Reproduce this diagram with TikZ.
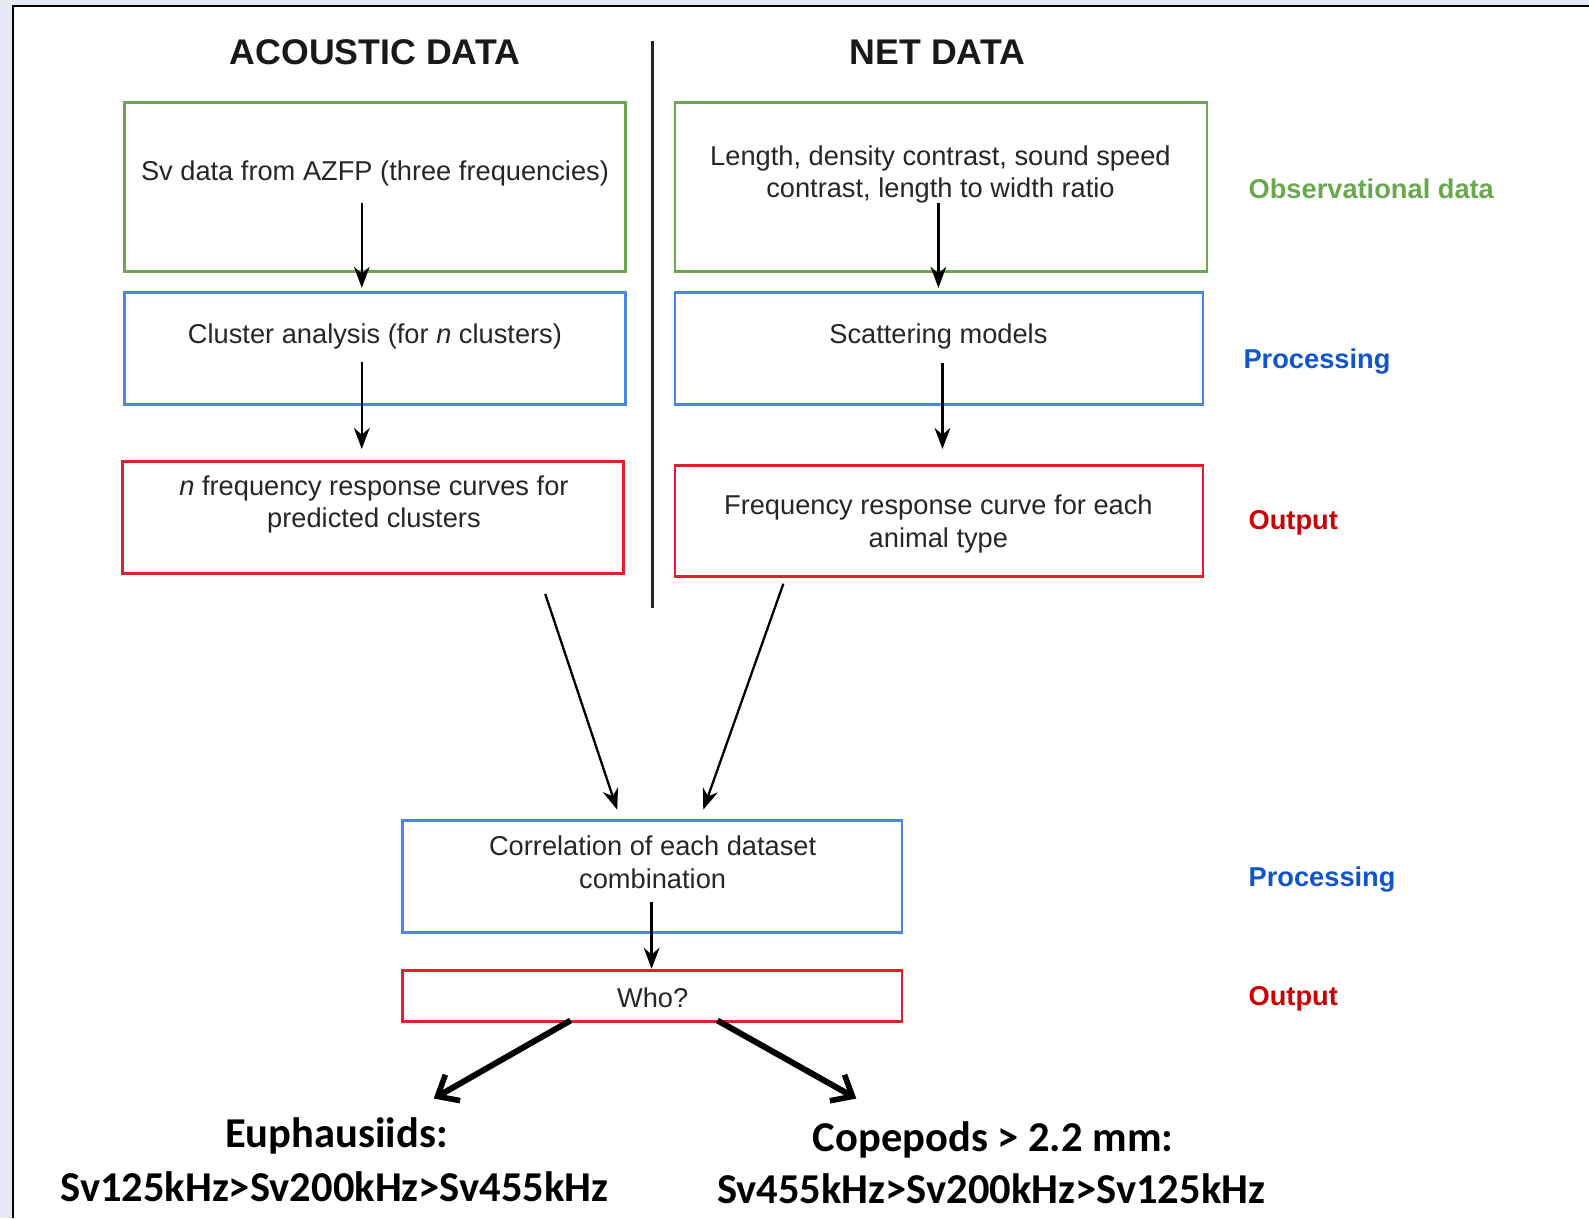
\documentclass[tikz,border=0pt]{standalone}
\usepackage{fontspec}
\setmainfont{Liberation Sans}
\newfontfamily\carlito{Carlito}
\usetikzlibrary{arrows.meta}
\definecolor{bgpage}{HTML}{E4EAF3}
\definecolor{gbox}{HTML}{6AA84F}
\definecolor{bbox}{HTML}{4A86E8}
\definecolor{rbox}{HTML}{E0202A}
\definecolor{glab}{HTML}{6AA84F}
\definecolor{blab}{HTML}{1155CC}
\definecolor{rlab}{HTML}{CC0000}
\tikzset{
  x=0.0202678cm, y=-0.0202678cm,
  boxg/.style={draw=gbox, line width=1.6pt, inner sep=0pt},
  boxb/.style={draw=bbox, line width=1.6pt, inner sep=0pt},
  boxr/.style={draw=rbox, line width=1.6pt, inner sep=0pt},
  txt/.style={font=\fontsize{15.5}{18.5}\selectfont, align=center, text=black!85},
  head/.style={font=\fontsize{20.3}{24}\selectfont\bfseries, text=black!90},
  lab/.style={font=\fontsize{15.5}{18.5}\selectfont\bfseries, anchor=west},
  arr/.style={-{Stealth[length=12pt,width=9pt]}, line width=1.3pt, black},
  bigarr/.style={-{Straight Barb[length=10pt,width=17pt,line width=3.2pt]}, line width=3.4pt, black},
  res/.style={font=\carlito\fontsize{24.2}{29}\selectfont\bfseries, align=center}
}
\begin{document}
\begin{tikzpicture}
\useasboundingbox (0,0) rectangle (1568,1202);
\fill[bgpage] (0,0) rectangle (1568,1202);
\fill[white] (13,6) rectangle (1568,1202);
\draw[line width=1.4pt] (13,1202) -- (13,6) -- (1568,6);

% headers and divider
\node[head] (hA) at (370,52) {ACOUSTIC DATA};
\node[head] (hN) at (925,52) {NET DATA};
\coordinate (dtop) at (644,40);
\coordinate (dbot) at (644,600);
\draw[line width=1.5pt, black!85] (dtop) -- (dbot);

% boxes
\draw[boxg] (123,101) rectangle (617,268);
\node[txt] (t1) at (370,171) {Sv data from AZFP (three frequencies)};
\draw[boxg] (666,101) rectangle (1191,268);
\node[txt] (t2) at (928,172) {Length, density contrast, sound speed\\contrast, length to width ratio};
\draw[boxb] (123,289) rectangle (617,399);
\node[txt] (t3) at (370,332) {Cluster analysis (for \textit{n} clusters)};
\draw[boxb] (666,289) rectangle (1187,399);
\node[txt] (t4) at (926,332) {Scattering models};
\draw[boxr] (121,455) rectangle (615,566);
\node[txt] (t5) at (369,498) {\textit{n} frequency response curves for\\predicted clusters};
\draw[boxr] (666,459) rectangle (1187,569);
\node[txt] (t6) at (926,517) {Frequency response curve for each\\animal type};
\draw[boxb] (397,810) rectangle (890,920);
\node[txt] (t7) at (644,851) {Correlation of each dataset\\combination};
\draw[boxr] (397,958) rectangle (890,1008);
\node[txt] (t8) at (644,985) {Who?};

% side labels
\node[lab, text=glab] (l1) at (1226,186) {Observational data};
\node[lab, text=blab] (l2) at (1221,357) {Processing};
\node[lab, text=rlab] (l3) at (1226,516) {Output};
\node[lab, text=blab] (l4) at (1226,868) {Processing};
\node[lab, text=rlab] (l5) at (1226,986) {Output};

% vertical arrows
\coordinate (a1s) at (357,200); \coordinate (a1e) at (357,284);
\draw[arr] (a1s) -- (a1e);
\coordinate (a2s) at (357,357); \coordinate (a2e) at (357,443);
\draw[arr] (a2s) -- (a2e);
\coordinate (a3s) at (926,200); \coordinate (a3e) at (926,284);
\draw[arr] (a3s) -- (a3e);
\coordinate (a4s) at (930,358); \coordinate (a4e) at (930,443);
\draw[arr] (a4s) -- (a4e);
\coordinate (a5s) at (538,586); \coordinate (a5e) at (609,799);
\draw[arr] (a5s) -- (a5e);
\coordinate (a6s) at (773,576); \coordinate (a6e) at (694,799);
\draw[arr] (a6s) -- (a6e);
\coordinate (a7s) at (643,890); \coordinate (a7e) at (643,956);
\draw[arr] (a7s) -- (a7e);

% bottom arrows
\coordinate (b1s) at (563,1007); \coordinate (b1e) at (428,1084);
\draw[bigarr] (b1s) -- (b1e);
\coordinate (b2s) at (708,1007); \coordinate (b2e) at (845,1084);
\draw[bigarr] (b2s) -- (b2e);

% results
\node[res] (r1a) at (332,1121) {Euphausiids:};
\node[res] (r1b) at (330,1171) {Sv125kHz>Sv200kHz>Sv455kHz};
\node[res] (r2a) at (980,1125) {Copepods > 2.2 mm:};
\node[res] (r2b) at (978,1173) {Sv455kHz>Sv200kHz>Sv125kHz};
\end{tikzpicture}
\end{document}
